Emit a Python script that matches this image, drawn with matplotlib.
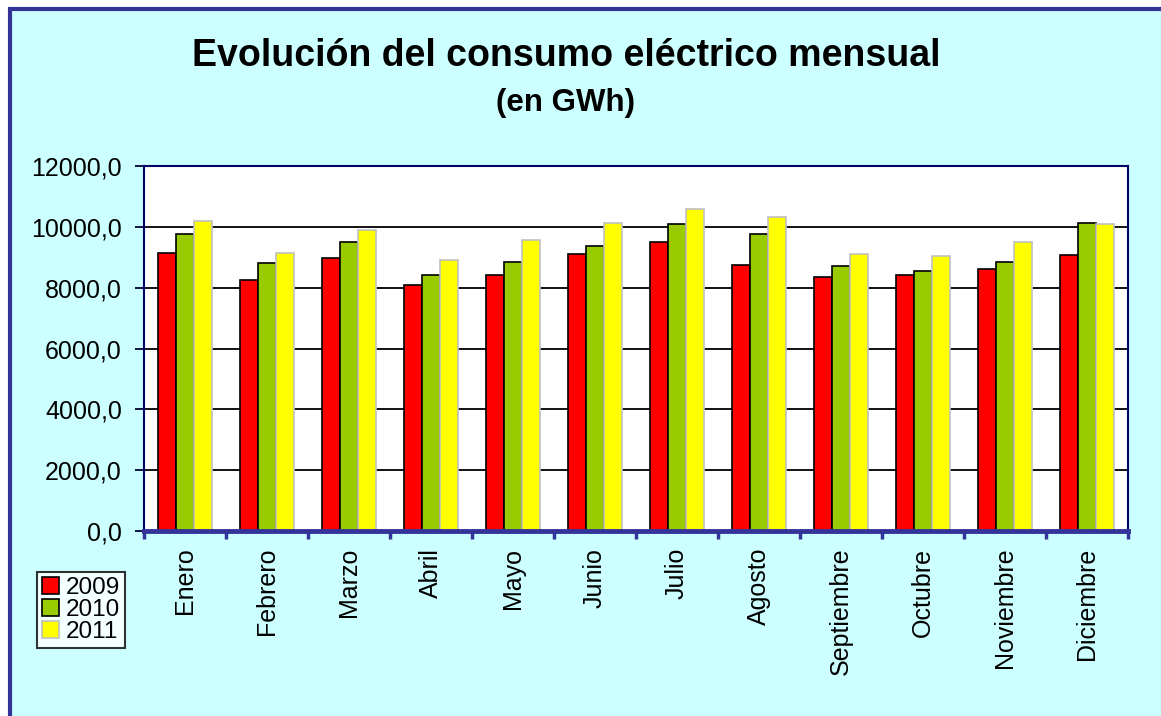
import matplotlib.pyplot as plt
import numpy as np
from matplotlib.patches import Rectangle
from matplotlib.ticker import FuncFormatter, MultipleLocator

plt.rcParams["font.family"] = ["Liberation Sans", "DejaVu Sans"]

MESES = ["Enero", "Febrero", "Marzo", "Abril", "Mayo", "Junio", "Julio",
         "Agosto", "Septiembre", "Octubre", "Noviembre", "Diciembre"]
C2009 = [9140, 8240, 8990, 8100, 8420, 9110, 9510, 8730, 8350, 8420, 8610, 9060]
C2010 = [9770, 8810, 9510, 8420, 8860, 9380, 10090, 9760, 8720, 8550, 8860, 10140]
C2011 = [10200, 9140, 9880, 8920, 9570, 10140, 10590, 10330, 9110, 9050, 9500, 10080]
YEARS = ["2009", "2010", "2011"]

W, H = 1161, 716


def main():
    fig = plt.figure(figsize=(W / 100, H / 100), dpi=100, facecolor="white")

    # chart area background + frame (right and bottom edges fall outside image)
    frame = Rectangle((9.5 / W, -0.2), 1.2, 0.2 + (H - 8.5) / H, transform=fig.transFigure,
                      facecolor="#CCFFFF", edgecolor="#333399", linewidth=3, zorder=-5)
    fig.patches.append(frame)

    ax = fig.add_axes([144 / W, (H - 531) / H, 984 / W, 365 / H])
    ax.set_facecolor("white")

    x = np.arange(len(MESES))
    bw = 0.223
    series = [C2009, C2010, C2011]
    colors = ["#FF0000", "#99CC00", "#FFFF00"]
    edges = ["black", "black", "#C0C0C0"]
    for i, (vals, col, ec, lab) in enumerate(zip(series, colors, edges, YEARS)):
        ax.bar(x + (i - 1) * bw, vals, width=bw, color=col, edgecolor=ec,
               linewidth=1.2, label=lab, zorder=3)

    ax.set_xlim(-0.5, 11.5)
    ax.set_ylim(0, 12000)
    ax.yaxis.set_major_locator(MultipleLocator(2000))
    ax.yaxis.set_major_formatter(FuncFormatter(lambda v, p: f"{v:.1f}".replace(".", ",")))
    ax.grid(axis="y", color="black", linewidth=1.3, zorder=1)

    ax.set_xticks(x)
    ax.set_xticklabels(MESES, rotation=90, fontsize=18)
    ax.tick_params(axis="x", length=0, pad=12)
    ax.set_xticks(np.arange(-0.5, 12, 1), minor=True)
    ax.tick_params(axis="x", which="minor", length=6, width=2.5, color="#333399")
    ax.tick_params(axis="y", labelsize=18, length=6.5, width=1.3, color="#000033", pad=9.5)

    for s in ["left", "top", "right"]:
        ax.spines[s].set_color("#000066")
        ax.spines[s].set_linewidth(1.5)
    ax.spines["bottom"].set_color("#333399")
    ax.spines["bottom"].set_linewidth(3.5)
    ax.spines["bottom"].set_zorder(4)

    fig.text(566 / W, 1 - 56 / H, "Evolución del consumo eléctrico mensual",
             fontsize=27, fontweight="bold", ha="center", va="center")
    fig.text(566 / W, 1 - 103 / H, "(en GWh)",
             fontsize=22.5, fontweight="bold", ha="center", va="center")

    leg = fig.legend(loc="upper left", bbox_to_anchor=(37 / W, 1 - 572 / H),
                     fontsize=17.5, frameon=True, fancybox=False, borderpad=0.2,
                     handlelength=0.7, handleheight=0.7, handletextpad=0.3,
                     labelspacing=0.0, borderaxespad=0)
    leg.get_frame().set_edgecolor("black")
    leg.get_frame().set_linewidth(1.5)

    fig.savefig("out.png", dpi=100, facecolor="white")


if __name__ == "__main__":
    main()
